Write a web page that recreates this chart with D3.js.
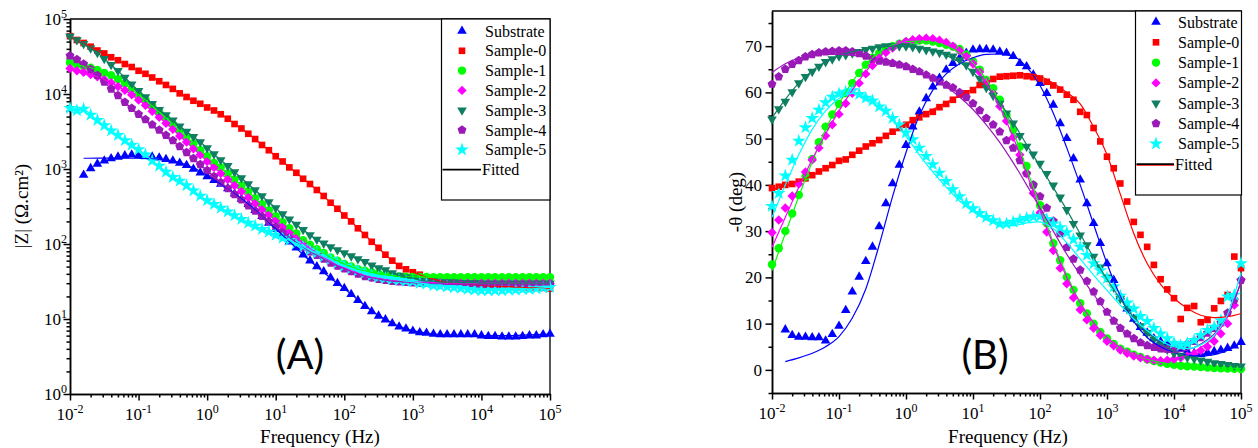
<!DOCTYPE html>
<html lang="en">
<head>
<meta charset="utf-8">
<title>Bode plots: |Z| and phase</title>
<script src="https://cdn.jsdelivr.net/npm/d3@7"></script>
<style>
body { margin: 0; background: #fff; }
svg text { font-family: "Liberation Serif", "Times New Roman", serif; fill: #000; }
.tick-label { font-size: 17px; }
.axis-title { font-size: 19px; }
.legend-label { font-size: 16px; }
.panel-tag { font-family: Lato, "Open Sans", sans-serif; font-size: 40px; }
.axis path, .axis line { stroke: #000; stroke-width: 1.5; fill: none; }
</style>
</head>
<body>
<script>

// ---------------- data ----------------
// measured frequencies (Hz), 10 points per decade
var freq = [
  0.01, 0.0126, 0.0158, 0.02, 0.0251, 0.0316, 0.0398, 0.0501, 0.0631, 0.0794,
  0.1, 0.126, 0.158, 0.2, 0.251, 0.316, 0.398, 0.501, 0.631, 0.794,
  1, 1.26, 1.58, 2, 2.51, 3.16, 3.98, 5.01, 6.31, 7.94,
  10, 12.6, 15.8, 20, 25.1, 31.6, 39.8, 50.1, 63.1, 79.4,
  100, 126, 158, 200, 251, 316, 398, 501, 631, 794,
  1000, 1260, 1580, 2000, 2510, 3160, 3980, 5010, 6310, 7940,
  10000, 12600, 15800, 20000, 25100, 31600, 39800, 50100, 63100, 79400,
  100000
];
// frequencies of the fitted curves
var fitFreq = [
  0.01, 0.0158, 0.0251, 0.0398, 0.0631, 0.1, 0.158, 0.251, 0.398, 0.631,
  1, 1.58, 2.51, 3.98, 6.31, 10, 15.8, 25.1, 39.8, 63.1,
  100, 158, 251, 398, 631, 1000, 1580, 2510, 3980, 6310,
  10000, 15800, 25100, 39800, 63100, 100000
];

var seriesNames = ["Substrate", "Sample-0", "Sample-1", "Sample-2", "Sample-3", "Sample-4", "Sample-5"];

// |Z| (ohm.cm2), panel A
var zSubstrate = [null, null, 830, 1020, 1170, 1290, 1380, 1450, 1510, 1550,
  1510, 1480, 1450, 1410, 1350, 1290, 1200, 1120, 1000, 891,
  794, 708, 631, 550, 468, 398, 339, 282, 234, 191,
  158, 132, 107, 89, 72, 60, 50, 43, 35.5, 30,
  25.7, 21.4, 17.8, 14.8, 12.6, 11.0, 9.8, 8.7, 7.9, 7.4,
  6.9, 6.6, 6.5, 6.3, 6.2, 6.2, 6.2, 6.2, 6.2, 6.2,
  6.0, 5.9, 5.9, 5.8, 5.8, 5.8, 5.9, 6.0, 6.0, 6.2, 6.3];
var zSample0 = [59000, 52500, 47900, 42700, 38000, 34700, 30900, 28200, 25100, 22900,
  20400, 18600, 16600, 14800, 13200, 11700, 10200, 9120, 8130, 7410,
  6610, 6030, 5370, 4680, 3980, 3470, 2950, 2510, 2090, 1780,
  1480, 1260, 1050, 891, 741, 631, 525, 437, 355, 295,
  240, 200, 162, 132, 107, 89, 72, 60, 51, 46,
  42, 39, 36, 34, 32, 31, 30, 29.5, 29, 28.5,
  28, 27.5, 27.5, 27, 27, 26.5, 26.5, 26, 26, 26, 25.5];
var zSample1 = [26300, 24500, 23400, 22400, 20900, 19100, 17800, 15800, 13800, 11700,
  9770, 8320, 6920, 5750, 4790, 3980, 3240, 2690, 2190, 1780,
  1480, 1200, 1050, 871, 724, 603, 501, 407, 339, 282,
  234, 195, 162, 138, 112, 98, 85, 76, 66, 60,
  54, 50, 46, 44, 42, 40, 39, 38, 37, 36.7,
  36.5, 36.3, 36.2, 36, 36, 36, 36, 36, 36, 36,
  36, 36, 36, 36, 36, 36, 36, 36, 36, 36, 36];
var zSample2 = [21900, 20400, 19500, 18200, 17000, 15500, 14100, 12600, 11200, 9770,
  8320, 7080, 5890, 4900, 4070, 3390, 2750, 2290, 1860, 1550,
  1260, 1050, 871, 724, 603, 501, 417, 347, 288, 245,
  204, 170, 141, 120, 102, 87, 76, 66, 59, 52,
  48, 44, 41, 38, 36, 35, 34, 33, 32.5, 32,
  31.5, 31, 31, 30.5, 30.5, 30, 30, 30, 30, 30,
  30, 30, 30, 30, 30, 30, 30, 30, 30, 30, 30];
var zSample3 = [58900, 52500, 46800, 40700, 35500, 29500, 24500, 20400, 16600, 13500,
  11000, 9120, 7410, 6170, 5250, 4470, 3720, 3160, 2690, 2290,
  1910, 1580, 1320, 1100, 912, 759, 631, 525, 437, 363,
  302, 251, 214, 182, 155, 132, 115, 102, 91, 83,
  76, 69, 63, 58, 52, 48, 45, 41, 38, 36,
  35, 33, 32, 32, 31, 31, 31, 30.5, 30.5, 30.5,
  30, 30, 30, 30, 30, 30, 30, 30, 30, 30, 30];
var zSample4 = [32400, 28800, 25100, 21400, 17800, 14500, 11700, 9550, 7760, 6460,
  5370, 4570, 3890, 3310, 2820, 2400, 2000, 1660, 1380, 1150,
  955, 794, 661, 550, 457, 389, 324, 275, 234, 200,
  170, 145, 123, 105, 91, 79, 71, 63, 56, 51,
  47, 43, 40, 37, 35.5, 34, 33, 32, 31.5, 31,
  30.5, 30, 30, 29.5, 29.5, 29, 29, 29, 28.5, 28.5,
  28.5, 28.5, 28.5, 28.5, 28.5, 28.5, 28.5, 28.5, 28.5, 28.5, 28.5];
var zSample5 = [6460, 6030, 6310, 5250, 4470, 3800, 3240, 2820, 2400, 2090,
  1820, 1550, 1290, 1100, 912, 776, 692, 603, 513, 437,
  380, 339, 302, 269, 240, 214, 191, 174, 158, 145,
  132, 120, 112, 102, 93, 83, 76, 68, 62, 56,
  51, 47, 44, 41, 38, 36, 35, 34, 33, 32,
  31.5, 30, 29.5, 28, 27.5, 27, 26.3, 25.7, 25, 24.5,
  24, 24, 24, 24, 24.5, 24.5, 25, 25, 25.5, 26, 26.5];
// fitted |Z| of the substrate (the other fits lie on their points)
var zFitSubstrate = [null, 1390, 1400, 1400, 1400, 1390, 1370, 1320, 1220, 1040,
  820, 630, 470, 340, 236, 160, 108, 72, 50, 35,
  25.5, 18, 12.8, 9.9, 8.0, 7.0, 6.5, 6.2, 6.1, 6.0,
  6.0, 6.0, 6.0, 6.1, 6.2, 6.3];

// -theta (deg), panel B
var thSubstrate = [null, null, 8.7, 7.5, 7.1, 7.1, 7.0, 7.0, 6.3, 7.7,
  9.5, 12.9, 16.9, 20.1, 23.5, 26.6, 31.0, 36.0, 40.3, 44.3,
  48.6, 52.6, 55.8, 58.7, 61.2, 63.1, 64.9, 66.3, 67.4, 68.5,
  69.2, 69.3, 69.3, 69.2, 68.8, 68.5, 67.8, 66.3, 65.6, 63.8,
  62.0, 59.8, 57.3, 53.3, 50.1, 45.7, 41.1, 36.0, 31.7, 27.4,
  23.0, 19.4, 15.8, 13.2, 11.0, 9.2, 8.0, 6.8, 6.1, 5.6,
  5.0, 4.5, 4.0, 3.6, 3.4, 3.7, 4.0, 4.3, 4.7, 5.2, 6.0];
var thSample0 = [39.3, 39.6, 40.0, 40.2, 40.7, 41.4, 42.1, 42.9, 43.6, 44.3,
  45.2, 45.5, 46.5, 47.4, 48.3, 49.0, 49.7, 50.6, 51.5, 52.3,
  53.0, 54.0, 54.6, 55.3, 55.8, 56.8, 57.5, 58.4, 59.5, 59.8,
  60.5, 61.6, 62.3, 62.9, 63.4, 63.5, 63.6, 63.7, 63.5, 63.3,
  63.0, 62.3, 61.5, 60.6, 59.5, 58.4, 55.8, 55.1, 52.3, 49.4,
  46.1, 43.6, 40.3, 36.4, 32.0, 29.2, 26.6, 22.7, 19.6, 17.4,
  15.5, 11.0, 13.4, 13.8, 10.3, 10.8, 13.3, 14.9, 16.2, 24.5, 22.0];
var thSample1 = [22.8, 26.3, 30.0, 33.8, 37.8, 41.8, 45.6, 49.2, 52.6, 55.2,
  57.5, 59.8, 62.0, 64.2, 66.0, 67.5, 68.5, 69.4, 70.0, 70.5,
  70.9, 71.1, 71.2, 71.2, 71.0, 70.7, 70.3, 69.9, 69.4, 68.2,
  66.7, 64.9, 62.7, 60.9, 58.4, 55.1, 51.9, 48.3, 44.1, 40.0,
  35.6, 31.7, 27.4, 23.7, 20.1, 17.3, 14.4, 12.2, 10.0, 8.2,
  6.8, 5.6, 4.6, 3.9, 3.3, 2.8, 2.3, 1.9, 1.6, 1.3,
  1.1, 0.9, 0.8, 0.7, 0.6, 0.5, 0.4, 0.35, 0.3, 0.25, 0.2];
var thSample2 = [29.7, 32.4, 35.0, 37.6, 40.2, 42.8, 45.4, 48.0, 50.6, 53.0,
  55.3, 57.6, 59.8, 62.0, 64.0, 65.8, 67.4, 68.6, 69.6, 70.4,
  71.0, 71.4, 71.6, 71.7, 71.6, 71.3, 70.8, 70.0, 69.0, 67.8,
  66.2, 64.4, 62.3, 59.8, 57.0, 53.8, 50.3, 46.5, 42.4, 38.2,
  34.0, 29.8, 25.8, 22.0, 18.6, 15.6, 13.0, 10.8, 9.0, 7.5,
  6.2, 5.2, 4.3, 3.6, 3.0, 2.6, 2.3, 2.1, 2.0, 2.1,
  2.3, 2.6, 3.0, 3.5, 4.2, 5.0, 6.2, 7.8, 10.0, 14.0, 19.5];
var thSample3 = [54.2, 56.4, 58.0, 60.1, 62.0, 63.4, 64.5, 65.6, 66.6, 67.2,
  67.8, 68.1, 68.5, 68.8, 69.2, 69.5, 69.8, 70.0, 70.0, 70.0,
  70.0, 69.8, 69.5, 69.2, 68.9, 68.6, 68.2, 67.8, 67.0, 65.9,
  64.5, 63.0, 61.0, 59.3, 57.6, 55.5, 53.3, 50.6, 48.3, 46.6,
  44.6, 42.4, 39.9, 37.3, 34.6, 31.6, 29.1, 27.0, 24.5, 22.2,
  20.0, 17.8, 15.4, 13.2, 11.2, 9.5, 8.0, 6.6, 5.4, 4.4,
  3.6, 3.1, 2.7, 2.4, 2.1, 1.8, 1.5, 1.3, 1.1, 0.9, 0.8];
var thSample4 = [61.8, 63.4, 65.0, 66.1, 66.9, 67.7, 68.2, 68.6, 68.8, 68.9,
  69.0, 69.0, 68.8, 68.4, 67.9, 67.2, 66.8, 66.6, 66.3, 66.0,
  65.6, 65.0, 64.5, 63.8, 63.1, 62.3, 61.6, 61.0, 60.0, 58.9,
  57.6, 56.1, 54.4, 53.0, 51.5, 49.6, 48.0, 45.3, 42.5, 40.0,
  37.5, 35.0, 32.2, 29.5, 26.5, 24.0, 21.6, 19.2, 16.9, 14.8,
  12.5, 10.6, 9.0, 7.8, 6.8, 5.9, 5.3, 4.9, 4.6, 4.5,
  4.7, 5.1, 5.6, 6.2, 7.0, 8.0, 9.0, 10.2, 12.3, 15.1, 19.4];
var thSample5 = [35.4, 38.2, 42.0, 45.4, 49.5, 52.4, 54.4, 56.2, 57.8, 59.0,
  59.7, 60.1, 60.4, 59.6, 58.8, 58.2, 56.9, 56.0, 54.4, 53.0,
  51.3, 49.8, 48.0, 46.2, 44.4, 42.6, 40.8, 39.0, 37.5, 36.0,
  34.9, 33.9, 33.0, 32.3, 31.6, 31.6, 32.0, 32.4, 32.8, 33.1,
  33.2, 32.6, 31.6, 30.8, 29.7, 28.2, 26.6, 24.8, 23.0, 21.5,
  19.8, 18.0, 16.0, 14.5, 13.2, 11.6, 10.5, 9.0, 7.8, 6.8,
  5.8, 5.3, 5.7, 6.4, 7.5, 8.6, 9.3, 10.7, 15.8, 16.2, 23.0];

// fitted -theta, on fitFreq
var thFitSubstrate = [null, 1.8, 2.6, 3.6, 5.0, 7.2, 11.2, 17.5, 27.0, 37.5,
  47.0, 55.0, 60.5, 64.0, 66.2, 67.5, 68.2, 68.3, 67.8, 65.5,
  61.5, 55.5, 48.0, 40.0, 31.5, 23.0, 16.0, 10.5, 7.0, 5.0,
  3.8, 3.2, 3.0, 3.3, 4.2, 5.8];
var thFitSample0 = [39.0, 39.8, 40.8, 42.0, 43.5, 45.0, 46.5, 48.2, 49.8, 51.5,
  53.2, 54.8, 56.3, 57.8, 59.3, 60.8, 62.2, 63.3, 64.0, 64.0,
  63.5, 62.0, 60.0, 57.5, 52.5, 46.5, 38.0, 29.5, 23.0, 18.5,
  15.5, 13.3, 11.8, 11.3, 11.5, 12.2];
var thFitSample1 = [21.5, 29.5, 37.5, 45.0, 52.0, 57.5, 62.3, 66.0, 68.8, 70.3,
  71.0, 71.1, 70.8, 70.0, 68.5, 66.3, 62.8, 58.0, 51.5, 43.5,
  35.5, 27.5, 20.5, 14.5, 10.2, 7.0, 4.8, 3.3, 2.3, 1.6,
  1.2, 0.9, 0.7, 0.5, 0.4, 0.3];
var thFitSample2 = [26.5, 33.0, 39.5, 45.5, 51.0, 56.0, 60.5, 64.5, 67.7, 70.0,
  71.2, 71.6, 71.4, 70.6, 68.8, 66.0, 62.0, 56.8, 50.3, 42.5,
  34.5, 27.0, 20.0, 14.5, 10.2, 7.0, 4.8, 3.3, 2.5, 2.2,
  2.4, 3.2, 4.8, 7.2, 11.5, 19.0];
var thFitSample3 = [54.5, 58.5, 62.0, 64.7, 66.6, 67.9, 68.8, 69.4, 69.8, 70.0,
  69.9, 69.6, 69.0, 68.0, 66.5, 64.3, 61.3, 57.8, 53.5, 48.7,
  44.0, 39.4, 34.6, 29.4, 24.3, 19.6, 15.3, 11.4, 8.2, 5.8,
  4.0, 2.9, 2.2, 1.7, 1.3, 1.0];
var thFitSample4 = [64.3, 66.2, 67.4, 68.0, 68.2, 68.2, 68.0, 67.6, 67.0, 66.3,
  65.4, 64.3, 62.9, 61.2, 59.0, 56.3, 53.0, 49.2, 44.8, 40.0,
  35.0, 30.0, 25.0, 20.5, 16.3, 12.5, 9.3, 6.8, 5.0, 4.0,
  3.8, 4.3, 5.6, 7.8, 11.8, 19.0];
var thFitSample5 = [33.0, 40.0, 46.5, 52.0, 56.0, 58.7, 59.8, 59.3, 57.3, 54.0,
  50.5, 46.5, 42.8, 39.5, 36.5, 34.2, 32.5, 31.4, 31.2, 31.8,
  32.0, 30.5, 27.5, 24.0, 20.5, 17.2, 14.0, 11.0, 8.5, 6.3,
  5.0, 4.6, 5.4, 7.5, 12.0, 21.0];

var zData = [zSubstrate, zSample0, zSample1, zSample2, zSample3, zSample4, zSample5];
var thData = [thSubstrate, thSample0, thSample1, thSample2, thSample3, thSample4, thSample5];
var thFits = [thFitSubstrate, thFitSample0, thFitSample1, thFitSample2, thFitSample3, thFitSample4, thFitSample5];

// ---------------- styles ----------------
var colors = ["#0000ff", "#ff0000", "#00ff00", "#ff00ff", "#0f7f62", "#9a1ab8", "#00ffff"];

var symPentagon = {
  draw: function(context, size) {
    var r = Math.sqrt(size / 2.3776);
    for (var i = 0; i < 5; i++) {
      var a = -Math.PI / 2 + i * 2 * Math.PI / 5;
      if (i === 0) context.moveTo(r * Math.cos(a), r * Math.sin(a));
      else context.lineTo(r * Math.cos(a), r * Math.sin(a));
    }
    context.closePath();
  }
};
// symbol type, size, rotation
var markers = [
  {type: d3.symbolTriangle, size: 40, rot: 0},
  {type: d3.symbolSquare, size: 44, rot: 0},
  {type: d3.symbolCircle, size: 56, rot: 0},
  {type: d3.symbolSquare, size: 44, rot: 45},
  {type: d3.symbolTriangle, size: 40, rot: 180},
  {type: symPentagon, size: 52, rot: 0},
  {type: d3.symbolStar, size: 58, rot: 0}
];

var W = 1258, H = 448;
var svg = d3.select("body").append("svg")
  .attr("width", W).attr("height", H);

// ---------------- scales ----------------
var xA = d3.scaleLog().domain([0.01, 1e5]).range([70, 550]);
var yA = d3.scaleLog().domain([1, 1e5]).range([394, 19]);
var xB = d3.scaleLog().domain([0.01, 1e5]).range([772, 1241]);
var yB = d3.scaleLinear().domain([-5, 77.6]).range([393, 11]);

var decadesX = [0.01, 0.1, 1, 10, 100, 1000, 10000, 100000];
var decadesY = [1, 10, 100, 1000, 10000, 100000];

function powLabel(text, v) {
  var e = Math.round(Math.log10(v));
  text.append("tspan").text("10");
  text.append("tspan").attr("dy", -7).attr("font-size", 12).text(e);
}

// log x axis with minor ticks and 10^n labels
function drawLogX(x, y0) {
  var minor = x.ticks().filter(function(v) { return decadesX.indexOf(v) < 0; });
  svg.append("g").attr("class", "axis")
    .attr("transform", "translate(0," + y0 + ")")
    .call(d3.axisBottom(x).tickValues(minor).tickSize(3.5).tickSizeOuter(0).tickFormat(""));
  svg.append("g").attr("class", "axis")
    .attr("transform", "translate(0," + y0 + ")")
    .call(d3.axisBottom(x).tickValues(decadesX).tickSize(6.5).tickSizeOuter(0).tickFormat(""));
  decadesX.forEach(function(v) {
    var t = svg.append("text").attr("class", "tick-label")
      .attr("x", x(v)).attr("y", y0 + 26).attr("text-anchor", "middle");
    powLabel(t, v);
  });
}

// frame: top and right border
function drawFrame(x0, x1, y0, y1) {
  svg.append("path")
    .attr("d", "M" + x0 + "," + y0 + "H" + x1 + "V" + y1)
    .attr("fill", "none").attr("stroke", "#000").attr("stroke-width", 1.3);
}

// ---------------- panel A ----------------
drawFrame(70, 550, 19, 394);
drawLogX(xA, 394);

var minorYA = yA.ticks().filter(function(v) { return decadesY.indexOf(v) < 0; });
svg.append("g").attr("class", "axis")
  .attr("transform", "translate(70,0)")
  .call(d3.axisLeft(yA).tickValues(minorYA).tickSize(3.5).tickSizeOuter(0).tickFormat(""));
svg.append("g").attr("class", "axis")
  .attr("transform", "translate(70,0)")
  .call(d3.axisLeft(yA).tickValues(decadesY).tickSize(6.5).tickSizeOuter(0).tickFormat(""));
decadesY.forEach(function(v) {
  var t = svg.append("text").attr("class", "tick-label")
    .attr("x", 67).attr("y", yA(v) + 6).attr("text-anchor", "end");
  powLabel(t, v);
});

svg.append("text").attr("class", "axis-title")
  .attr("x", 320).attr("y", 443).attr("text-anchor", "middle")
  .text("Frequency (Hz)");
svg.append("text").attr("class", "axis-title")
  .attr("transform", "translate(28,206) rotate(-90)")
  .attr("text-anchor", "middle")
  .text("|Z| (\u03A9.cm\u00B2)");

svg.append("text").attr("class", "panel-tag")
  .attr("x", 300).attr("y", 369).attr("text-anchor", "middle").text("(A)");

// markers A
zData.forEach(function(arr, s) {
  var pts = freq.map(function(f, i) { return {f: f, v: arr[i]}; })
    .filter(function(d) { return d.v != null; });
  svg.append("g").selectAll("path")
    .data(pts).enter().append("path")
    .attr("d", d3.symbol().type(markers[s].type).size(markers[s].size))
    .attr("transform", function(d) {
      return "translate(" + xA(d.f) + "," + yA(d.v) + ") rotate(" + markers[s].rot + ")";
    })
    .attr("fill", colors[s]);
});

// fitted lines A
var lineA = d3.line()
  .defined(function(d) { return d.v != null; })
  .x(function(d) { return xA(d.f); })
  .y(function(d) { return yA(d.v); })
  .curve(d3.curveMonotoneX);
zData.forEach(function(arr, s) {
  var src = s === 0 ? zFitSubstrate : arr;
  var fx = s === 0 ? fitFreq : freq;
  svg.append("path")
    .datum(fx.map(function(f, i) { return {f: f, v: src[i]}; }))
    .attr("d", lineA)
    .attr("fill", "none").attr("stroke", colors[s]).attr("stroke-width", 1.2);
});

// ---------------- panel B ----------------
drawFrame(772, 1241, 11, 393);
drawLogX(xB, 393);

var majorYB = [0, 10, 20, 30, 40, 50, 60, 70];
var minorYB = [-5, 5, 15, 25, 35, 45, 55, 65, 75];
svg.append("g").attr("class", "axis")
  .attr("transform", "translate(772,0)")
  .call(d3.axisLeft(yB).tickValues(minorYB).tickSize(3.5).tickSizeOuter(0).tickFormat(""));
svg.append("g").attr("class", "axis")
  .attr("transform", "translate(772,0)")
  .call(d3.axisLeft(yB).tickValues(majorYB).tickSize(6.5).tickSizeOuter(0).tickFormat(""));
majorYB.forEach(function(v) {
  svg.append("text").attr("class", "tick-label")
    .attr("x", 762).attr("y", yB(v) + 6).attr("text-anchor", "end")
    .text(v);
});

svg.append("text").attr("class", "axis-title")
  .attr("x", 1008).attr("y", 443).attr("text-anchor", "middle")
  .text("Frequency (Hz)");
svg.append("text").attr("class", "axis-title")
  .attr("transform", "translate(742,202) rotate(-90)")
  .attr("text-anchor", "middle")
  .text("-\u03B8 (deg)");

svg.append("text").attr("class", "panel-tag")
  .attr("x", 985).attr("y", 369).attr("text-anchor", "middle").text("(B)");

thData.forEach(function(arr, s) {
  var pts = freq.map(function(f, i) { return {f: f, v: arr[i]}; })
    .filter(function(d) { return d.v != null; });
  svg.append("g").selectAll("path")
    .data(pts).enter().append("path")
    .attr("d", d3.symbol().type(markers[s].type).size(markers[s].size))
    .attr("transform", function(d) {
      return "translate(" + xB(d.f) + "," + yB(d.v) + ") rotate(" + markers[s].rot + ")";
    })
    .attr("fill", colors[s]);
});

var lineB = d3.line()
  .defined(function(d) { return d.v != null; })
  .x(function(d) { return xB(d.f); })
  .y(function(d) { return yB(d.v); })
  .curve(d3.curveMonotoneX);
thFits.forEach(function(arr, s) {
  svg.append("path")
    .datum(fitFreq.map(function(f, i) { return {f: f, v: arr[i]}; }))
    .attr("d", lineB)
    .attr("fill", "none").attr("stroke", colors[s]).attr("stroke-width", 1.2);
});

// ---------------- legends ----------------
function drawLegend(bx, by, bw, bh, mx, tx, row0, step, redFit) {
  svg.append("rect")
    .attr("x", bx).attr("y", by).attr("width", bw).attr("height", bh)
    .attr("fill", "#fff").attr("stroke", "#000").attr("stroke-width", 1.2);
  seriesNames.forEach(function(name, s) {
    var yy = row0 + s * step;
    svg.append("path")
      .attr("d", d3.symbol().type(markers[s].type).size(markers[s].size))
      .attr("transform", "translate(" + mx + "," + yy + ") rotate(" + markers[s].rot + ")")
      .attr("fill", colors[s]);
    svg.append("text").attr("class", "legend-label")
      .attr("x", tx).attr("y", yy + 5.5).text(name);
  });
  var fy = row0 + seriesNames.length * step;
  if (redFit) {
    svg.append("line")
      .attr("x1", bx + 1).attr("x2", tx - 4).attr("y1", fy + 1).attr("y2", fy + 1)
      .attr("stroke", "#ff0000").attr("stroke-width", 1.2);
  }
  svg.append("line")
    .attr("x1", bx + 1).attr("x2", tx - 4).attr("y1", fy).attr("y2", fy)
    .attr("stroke", "#000").attr("stroke-width", 1.6);
  svg.append("text").attr("class", "legend-label")
    .attr("x", tx - 3).attr("y", fy + 5.5).text("Fitted");
}

drawLegend(441.5, 19, 108.5, 181, 462, 485, 31, 19.8, false);
drawLegend(1135.5, 11, 106, 184, 1156, 1178, 22, 20.3, true);

</script>
</body>
</html>
